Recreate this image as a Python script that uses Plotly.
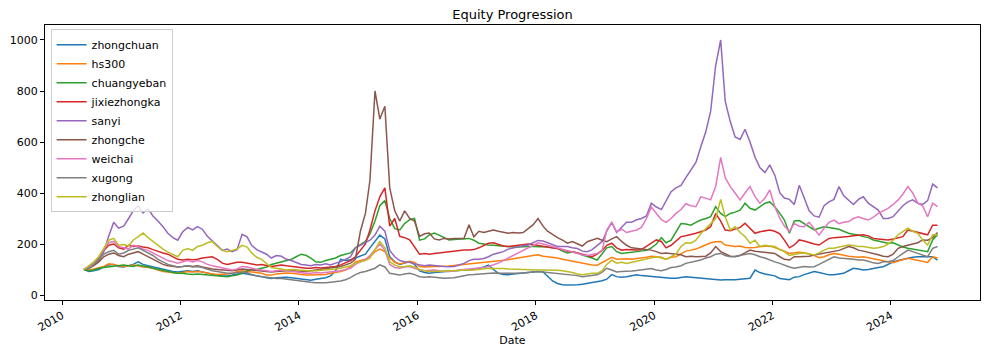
import pandas as pd
import plotly.graph_objects as go

dates = pd.date_range("2010-05-01", periods=174, freq="MS") + pd.Timedelta(days=14)

zhongchuan = (
    [100, 92, 95, 100, 110, 118, 120, 112]
    + [110, 115, 120, 130, 120, 115, 110, 105, 100, 95, 92, 90]
    + [92, 95, 92, 95, 90, 85, 80, 78, 75, 75, 78, 82]
    + [85, 82, 78, 75, 72, 68, 65, 68, 70, 70, 68, 65]
    + [62, 60, 58, 62, 65, 68, 75, 95, 140, 135, 138, 145]
    + [155, 160, 185, 210, 235, 220, 150, 130, 120, 125, 130, 120]
    + [95, 88, 85, 88, 90, 92, 92, 95, 96, 98, 98, 100]
    + [105, 110, 117, 100, 85, 80, 79, 82, 85, 86, 88, 90]
    + [92, 90, 75, 55, 45, 40, 39, 39, 40, 42, 45, 48]
    + [52, 56, 62, 80, 72, 70, 72, 75, 79, 76, 74, 72]
    + [72, 70, 68, 66, 66, 68, 72, 70, 68, 66, 64, 62]
    + [60, 59, 60, 59, 60, 62, 64, 66, 98, 88, 82, 79]
    + [75, 65, 62, 60, 70, 72, 80, 85, 92, 88, 82, 79]
    + [79, 82, 85, 95, 105, 102, 98, 100, 105, 108, 111, 120]
    + [130, 135, 140, 144, 148, 150, 150, 150, 150, 137]
)

hs300 = (
    [100, 98, 102, 108, 112, 122, 120, 115]
    + [112, 115, 118, 115, 110, 108, 105, 98, 92, 90, 88, 85]
    + [88, 92, 90, 92, 90, 85, 82, 80, 80, 82, 85, 92]
    + [95, 92, 88, 86, 85, 78, 78, 82, 85, 86, 85, 82]
    + [80, 78, 78, 78, 78, 80, 85, 88, 92, 98, 110, 130]
    + [135, 140, 150, 170, 180, 170, 145, 128, 122, 128, 132, 128]
    + [112, 110, 112, 112, 112, 112, 114, 116, 118, 120, 122, 122]
    + [124, 126, 128, 130, 132, 135, 138, 142, 146, 150, 152, 155]
    + [158, 152, 150, 148, 145, 140, 136, 132, 130, 124, 120, 118]
    + [117, 128, 140, 148, 140, 142, 142, 140, 142, 145, 148, 152]
    + [150, 148, 140, 148, 150, 160, 172, 176, 180, 188, 196, 205]
    + [209, 210, 196, 192, 190, 192, 186, 185, 186, 190, 192, 192]
    + [186, 180, 172, 163, 165, 168, 166, 160, 155, 146, 150, 158]
    + [163, 160, 155, 152, 150, 148, 150, 146, 140, 137, 132, 130]
    + [127, 133, 138, 144, 140, 135, 132, 128, 150, 145]
)

chuangyeban = (
    [100, 95, 98, 105, 108, 110, 112, 115]
    + [118, 115, 112, 118, 115, 110, 105, 100, 95, 90, 88, 85]
    + [85, 82, 80, 82, 80, 78, 76, 74, 72, 72, 75, 78]
    + [85, 95, 100, 100, 105, 110, 120, 125, 130, 135, 140, 150]
    + [160, 155, 145, 130, 128, 135, 140, 145, 155, 160, 165, 185]
    + [196, 210, 240, 290, 350, 370, 300, 260, 255, 280, 295, 300]
    + [215, 220, 236, 243, 235, 225, 216, 218, 220, 222, 222, 215]
    + [203, 200, 196, 195, 193, 190, 190, 188, 188, 190, 190, 190]
    + [190, 190, 188, 185, 183, 172, 165, 170, 165, 157, 152, 145]
    + [137, 160, 185, 190, 170, 163, 165, 168, 170, 172, 175, 185]
    + [200, 225, 205, 215, 245, 280, 278, 274, 285, 294, 300, 307]
    + [346, 320, 307, 320, 325, 333, 360, 340, 333, 345, 360, 365]
    + [346, 320, 294, 242, 290, 292, 280, 268, 255, 262, 268, 265]
    + [262, 258, 250, 242, 238, 235, 229, 225, 216, 212, 208, 203]
    + [205, 195, 188, 183, 180, 178, 176, 170, 216, 236]
)

jixiezhongka = (
    [100, 108, 120, 145, 175, 195, 200, 185]
    + [180, 195, 190, 192, 188, 185, 178, 170, 165, 160, 150, 140]
    + [137, 140, 138, 140, 145, 148, 150, 140, 125, 120, 124, 128]
    + [128, 124, 120, 118, 120, 115, 112, 115, 118, 115, 112, 110]
    + [108, 105, 105, 108, 106, 108, 110, 112, 118, 125, 135, 150]
    + [175, 200, 255, 330, 385, 420, 270, 300, 230, 225, 216, 190]
    + [160, 163, 160, 163, 165, 168, 170, 172, 175, 176, 176, 178]
    + [185, 195, 203, 205, 198, 192, 190, 193, 195, 196, 200, 198]
    + [195, 190, 188, 185, 183, 178, 172, 170, 165, 160, 152, 150]
    + [160, 175, 195, 203, 185, 176, 178, 176, 176, 178, 190, 205]
    + [216, 210, 185, 195, 210, 229, 232, 236, 242, 248, 255, 268]
    + [320, 290, 255, 252, 258, 265, 281, 260, 242, 248, 252, 255]
    + [250, 240, 215, 185, 196, 216, 212, 205, 200, 196, 209, 222]
    + [225, 226, 228, 229, 232, 234, 236, 232, 222, 220, 218, 216]
    + [220, 224, 229, 255, 250, 245, 242, 236, 274, 274]
)

sanyi = (
    [100, 108, 118, 135, 170, 230, 285, 262]
    + [270, 300, 330, 350, 322, 338, 310, 290, 268, 242, 225, 215]
    + [248, 265, 255, 268, 258, 230, 212, 190, 175, 180, 170, 178]
    + [238, 228, 195, 178, 170, 160, 145, 155, 152, 140, 135, 128]
    + [120, 118, 115, 120, 118, 122, 118, 125, 130, 140, 150, 185]
    + [195, 205, 215, 235, 270, 250, 175, 150, 135, 130, 128, 122]
    + [118, 115, 118, 115, 115, 112, 111, 112, 118, 124, 135, 140]
    + [140, 143, 150, 160, 165, 170, 180, 185, 190, 193, 196, 205]
    + [214, 212, 205, 195, 190, 190, 190, 185, 182, 172, 170, 178]
    + [195, 210, 250, 285, 245, 265, 285, 285, 295, 300, 310, 360]
    + [345, 335, 370, 405, 420, 430, 460, 490, 520, 580, 640, 720]
    + [900, 1000, 760, 680, 620, 610, 650, 600, 540, 500, 480, 510]
    + [470, 400, 380, 375, 355, 430, 380, 330, 310, 305, 350, 365]
    + [375, 425, 390, 373, 355, 375, 385, 360, 345, 333, 300, 300]
    + [307, 330, 350, 365, 373, 360, 355, 370, 435, 420]
)

zhongche = (
    [100, 105, 115, 130, 150, 160, 165, 155]
    + [150, 160, 165, 170, 160, 150, 140, 130, 120, 115, 112, 110]
    + [112, 115, 112, 115, 110, 105, 102, 100, 98, 96, 95, 98]
    + [102, 100, 98, 95, 95, 92, 90, 92, 95, 95, 96, 95]
    + [92, 92, 95, 98, 100, 102, 105, 108, 112, 118, 125, 140]
    + [250, 320, 450, 800, 690, 740, 420, 330, 290, 330, 300, 290]
    + [230, 240, 243, 220, 216, 222, 220, 222, 222, 222, 275, 228]
    + [250, 245, 250, 255, 250, 245, 242, 245, 243, 245, 260, 275]
    + [300, 270, 250, 236, 225, 215, 203, 210, 200, 192, 209, 215]
    + [222, 215, 209, 220, 229, 210, 195, 185, 183, 180, 178, 176]
    + [170, 163, 165, 162, 160, 158, 150, 152, 150, 150, 152, 165]
    + [190, 170, 160, 152, 150, 155, 165, 176, 172, 170, 168, 165]
    + [163, 150, 140, 137, 150, 150, 150, 152, 157, 160, 163, 166]
    + [170, 175, 182, 190, 185, 176, 172, 168, 163, 158, 152, 150]
    + [160, 183, 190, 196, 200, 205, 216, 215, 225, 245]
)

weichai = (
    [100, 110, 125, 150, 180, 205, 210, 190]
    + [185, 180, 195, 190, 180, 175, 165, 155, 145, 135, 130, 125]
    + [130, 135, 130, 135, 130, 120, 115, 110, 105, 100, 98, 102]
    + [112, 110, 105, 100, 98, 95, 92, 95, 98, 95, 92, 90]
    + [88, 85, 85, 88, 86, 88, 90, 92, 95, 100, 105, 120]
    + [130, 140, 155, 180, 200, 175, 120, 108, 105, 110, 112, 105]
    + [98, 95, 96, 98, 95, 92, 92, 94, 98, 100, 102, 104]
    + [105, 108, 112, 118, 125, 135, 145, 155, 165, 175, 185, 195]
    + [205, 200, 195, 190, 185, 180, 172, 168, 162, 158, 155, 160]
    + [163, 175, 255, 285, 248, 258, 245, 250, 255, 265, 300, 345]
    + [320, 295, 285, 300, 320, 335, 358, 350, 346, 385, 380, 373]
    + [425, 540, 460, 425, 400, 373, 400, 425, 386, 360, 380, 412]
    + [346, 300, 270, 250, 280, 270, 268, 285, 260, 235, 262, 285]
    + [294, 280, 285, 288, 300, 307, 300, 294, 305, 320, 330, 340]
    + [355, 373, 395, 425, 400, 360, 350, 307, 360, 347]
)

xugong = (
    [100, 105, 120, 140, 160, 170, 175, 160]
    + [165, 175, 180, 185, 175, 165, 155, 140, 130, 120, 115, 110]
    + [112, 115, 110, 112, 108, 100, 95, 92, 88, 85, 85, 88]
    + [90, 88, 80, 75, 72, 70, 68, 65, 65, 62, 60, 58]
    + [55, 52, 50, 48, 47, 48, 50, 52, 55, 60, 68, 80]
    + [88, 92, 98, 105, 118, 110, 85, 80, 78, 82, 85, 80]
    + [72, 70, 72, 70, 68, 66, 67, 68, 72, 76, 79, 80]
    + [82, 84, 85, 86, 85, 85, 84, 85, 85, 86, 88, 90]
    + [92, 90, 88, 86, 85, 84, 82, 80, 76, 72, 74, 78]
    + [79, 90, 105, 98, 90, 92, 92, 94, 96, 98, 100, 104]
    + [98, 95, 100, 108, 110, 115, 124, 128, 132, 137, 145, 150]
    + [160, 163, 155, 150, 152, 155, 160, 163, 158, 150, 145, 137]
    + [130, 124, 117, 110, 105, 110, 112, 110, 111, 120, 130, 137]
    + [150, 145, 144, 142, 140, 137, 137, 132, 126, 124, 130, 130]
    + [135, 150, 163, 176, 170, 163, 155, 150, 183, 190]
)

zhonglian = (
    [100, 115, 130, 150, 185, 215, 222, 195]
    + [198, 192, 215, 228, 243, 225, 210, 195, 180, 168, 158, 150]
    + [175, 182, 175, 190, 195, 205, 210, 190, 175, 170, 175, 180]
    + [195, 188, 165, 148, 140, 125, 108, 105, 100, 98, 100, 98]
    + [96, 95, 94, 95, 96, 98, 100, 102, 105, 110, 115, 125]
    + [130, 135, 145, 180, 210, 185, 130, 118, 110, 112, 115, 110]
    + [100, 95, 92, 92, 93, 95, 95, 96, 97, 98, 98, 98]
    + [100, 102, 105, 104, 105, 104, 102, 101, 101, 100, 99, 98]
    + [98, 98, 98, 97, 97, 95, 92, 88, 82, 79, 82, 85]
    + [85, 95, 120, 137, 125, 128, 124, 128, 135, 137, 140, 145]
    + [150, 145, 140, 150, 160, 190, 205, 203, 215, 240, 260, 280]
    + [300, 375, 307, 255, 268, 245, 229, 203, 215, 190, 195, 192]
    + [190, 178, 170, 155, 160, 163, 165, 160, 157, 165, 176, 183]
    + [183, 188, 192, 196, 194, 190, 190, 186, 183, 185, 190, 200]
    + [215, 236, 250, 262, 250, 242, 216, 196, 236, 236]
)

series_names = ["zhongchuan", "hs300", "chuangyeban", "jixiezhongka", "sanyi",
                "zhongche", "weichai", "xugong", "zhonglian"]
series_values = [zhongchuan, hs300, chuangyeban, jixiezhongka, sanyi,
                 zhongche, weichai, xugong, zhonglian]
colors = ["#1f77b4", "#ff7f0e", "#2ca02c", "#d62728", "#9467bd",
          "#8c564b", "#e377c2", "#7f7f7f", "#bcbd22"]

x_tick_vals = [f"{y}-01-01" for y in range(2010, 2025, 2)]
x_tick_text = [str(y) for y in range(2010, 2025, 2)]
y_tick_vals = [0, 200, 400, 600, 800, 1000]

fig = go.Figure()
for name, vals, c in zip(series_names, series_values, colors):
    assert len(vals) == len(dates), (name, len(vals))
    fig.add_trace(go.Scatter(x=dates, y=vals, mode="lines", name=name,
                             line=dict(color=c, width=1.5)))

font_family = "DejaVu Sans"
fig.update_layout(
    width=994, height=352,
    margin=dict(l=45, r=14, t=25, b=52, autoexpand=False),
    paper_bgcolor="white", plot_bgcolor="white",
    font=dict(family=font_family, size=11, color="black"),
    title=dict(text="Equity Progression", x=0.5, xanchor="center", xref="paper",
               y=1, yref="paper", yanchor="bottom", pad=dict(b=6),
               font=dict(size=13, color="black"), automargin=False),
    showlegend=True,
    legend=dict(x=0.006, y=0.985, xanchor="left", yanchor="top",
                bgcolor="rgba(255,255,255,0.8)", bordercolor="#cccccc", borderwidth=1,
                font=dict(size=11), itemwidth=30, tracegroupgap=0),
)
fig.update_xaxes(
    type="date", range=["2009-09-17", "2025-07-04"], automargin=False,
    tickvals=x_tick_vals, ticktext=x_tick_text, tickangle=-30,
    ticks="outside", ticklen=4, tickcolor="black", tickwidth=1,
    showline=True, linecolor="black", linewidth=1, mirror=True,
    showgrid=False, zeroline=False,
    title=dict(text="Date", font=dict(size=11), standoff=3),
)
fig.update_yaxes(
    range=[-19.6, 1058.8], tickvals=y_tick_vals, automargin=False,
    ticks="outside", ticklen=4, tickcolor="black", tickwidth=1,
    showline=True, linecolor="black", linewidth=1, mirror=True,
    showgrid=False, zeroline=False,
)

fig.write_html("out.html")
